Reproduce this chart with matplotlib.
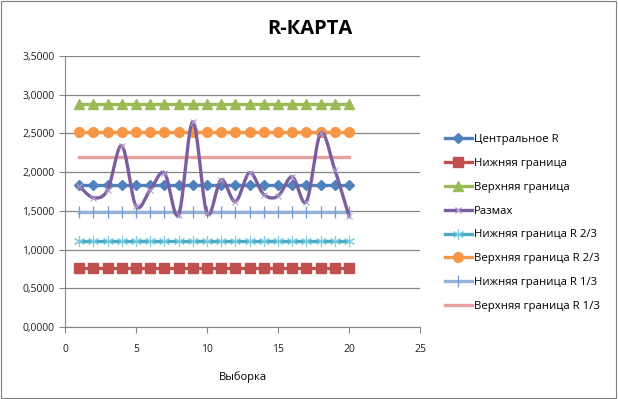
import numpy as np
import matplotlib.pyplot as plt
from matplotlib.ticker import FuncFormatter

# sample numbers
samples = list(range(1, 21))

# control levels
center_r = 1.84
lcl = 0.765
ucl = 2.875
lcl_23 = 1.11
ucl_23 = 2.52
lcl_13 = 1.485
ucl_13 = 2.19

# ranges
razmah = [1.82, 1.67, 1.77, 2.34, 1.56, 1.77, 1.99, 1.45, 2.65, 1.47,
          1.90, 1.62, 1.99, 1.71, 1.69, 1.94, 1.62, 2.50, 2.03, 1.43]

labels = ['Центральное R', 'Нижняя граница', 'Верхняя граница', 'Размах',
          'Нижняя граница R 2/3', 'Верхняя граница R 2/3',
          'Нижняя граница R 1/3', 'Верхняя граница R 1/3']


def smooth(x, y, n=20):
    # catmull-rom style smoothing like Excel's smoothed line
    x = np.asarray(x, float)
    y = np.asarray(y, float)
    px = np.concatenate([[x[0]], x, [x[-1]]])
    py = np.concatenate([[y[0]], y, [y[-1]]])
    xs, ys = [], []
    t = np.linspace(0, 1, n)
    for i in range(1, len(px) - 2):
        p0, p1, p2, p3 = py[i - 1], py[i], py[i + 1], py[i + 2]
        q0, q1, q2, q3 = px[i - 1], px[i], px[i + 1], px[i + 2]
        b = lambda a0, a1, a2, a3: 0.5 * ((2 * a1) + (-a0 + a2) * t +
                                          (2 * a0 - 5 * a1 + 4 * a2 - a3) * t ** 2 +
                                          (-a0 + 3 * a1 - 3 * a2 + a3) * t ** 3)
        xs.append(b(q0, q1, q2, q3))
        ys.append(b(p0, p1, p2, p3))
    return np.concatenate(xs), np.concatenate(ys)


plt.rcParams['font.family'] = ['Open Sans', 'DejaVu Sans']

fig = plt.figure(figsize=(6.18, 3.99), dpi=100)
ax = fig.add_axes([65 / 618, 1 - 327 / 399, 355 / 618, 271 / 399])

n = len(samples)
lw = 2.4
ax.plot(samples, [center_r] * n, color='#4F81BD', lw=lw, marker='D', ms=5, label=labels[0], zorder=3)
ax.plot(samples, [lcl] * n, color='#C0504D', lw=lw, marker='s', ms=7, label=labels[1], zorder=3)
ax.plot(samples, [ucl] * n, color='#9BBB59', lw=lw, marker='^', ms=7, label=labels[2], zorder=3)
sx, sy = smooth(samples, razmah)
ax.plot(sx, sy, color='#7B5EA0', lw=lw, zorder=4)
ax.plot(samples, razmah, ls='none', marker='x', ms=5, mew=0.8, color='#B39DD0', zorder=5)
ax.plot([], [], color='#7B5EA0', lw=lw, marker='x', ms=5, mec='#B39DD0', label=labels[3])
ax.plot(samples, [lcl_23] * n, color='#4BACC6', lw=lw, marker=(6, 2, 0), ms=8, mew=0.8,
        mec='#7CCCE0', label=labels[4], zorder=3)
ax.plot(samples, [ucl_23] * n, color='#F79646', lw=lw, marker='o', ms=7, label=labels[5], zorder=3)
ax.plot(samples, [lcl_13] * n, color='#95B3D7', lw=lw, marker='|', ms=8, mew=0.9,
        mec='#6F9BD0', label=labels[6], zorder=3)
ax.plot(samples, [ucl_13] * n, color='#E6A0A0', lw=lw, label=labels[7], zorder=3)

ax.set_xlim(0, 25)
ax.set_ylim(0, 3.5)
ax.set_xticks(range(0, 26, 5))
ax.set_yticks(np.arange(0, 3.51, 0.5))
ax.yaxis.set_major_formatter(FuncFormatter(lambda v, p: f'{v:.4f}'.replace('.', ',')))
ax.grid(axis='y', color='#868686', lw=0.9)
ax.set_axisbelow(True)
for s in ['top', 'right']:
    ax.spines[s].set_visible(False)
for s in ['left', 'bottom']:
    ax.spines[s].set_color('#868686')
ax.tick_params(colors='#868686', labelcolor='#222222', labelsize=7.5, length=4)
ax.tick_params(axis='x', pad=8)
ax.set_xlabel('Выборка', fontsize=8, labelpad=12)

fig.text(310 / 618, 1 - 29 / 399, 'R-КАРТА', fontsize=14.5, fontweight='bold', ha='center', va='center')

leg = fig.legend(loc='upper left', bbox_to_anchor=(440 / 618, 1 - 129 / 399), frameon=False,
                 fontsize=8.2, handlelength=2.4, labelspacing=1.14, handletextpad=0.2,
                 borderaxespad=0)

fig.patches.append(plt.Rectangle((0.002, 0.003), 0.995, 0.994, transform=fig.transFigure,
                                 fill=False, ec='#7F7F7F', lw=0.8))

fig.savefig('out.png', dpi=100)
